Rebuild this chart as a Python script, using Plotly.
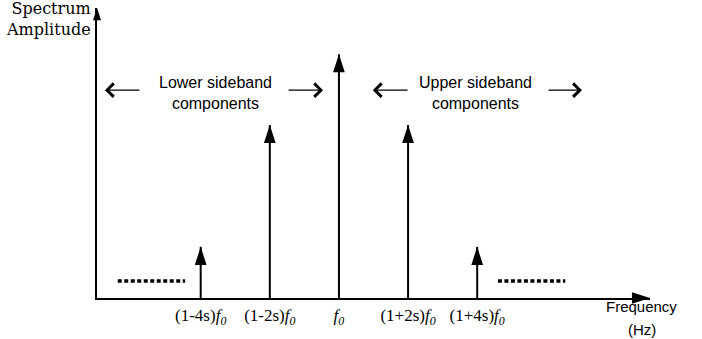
import plotly.graph_objects as go

# ---- data -------------------------------------------------------------
# component positions in units of s (relative to f0) and spectrum amplitudes
component_pos = [-4, -2, 0, 2, 4]
component_amp = [0.21, 0.71, 1.0, 0.71, 0.21]
tick_labels = [
    "(1-4s)<i>f<sub>0</sub></i>",
    "(1-2s)<i>f<sub>0</sub></i>",
    "<i>f<sub>0</sub></i>",
    "(1+2s)<i>f<sub>0</sub></i>",
    "(1+4s)<i>f<sub>0</sub></i>",
]
# "more components" dotted continuation marks (x start, x end) and level
continuation_x = [(-6.4, -4.45), (4.6, 6.55)]
continuation_level = 0.07

# sideband annotation texts
sideband_labels = ["Lower sideband<br>components", "Upper sideband<br>components"]
sideband_centers = [-3.56, 3.96]
sideband_level = 0.853
# arrows (tail x, tip x)
sideband_arrows = [(-5.73, -6.77), (-1.50, -0.46), (2.03, 0.98), (6.02, 7.03)]

X_RANGE = [-7, 9]
Y_RANGE = [0, 1.19]

fig = go.Figure()

# stems
sx, sy = [], []
for p, a in zip(component_pos, component_amp):
    sx += [p, p, None]
    sy += [0, a, None]
fig.add_trace(go.Scatter(x=sx, y=sy, mode="lines",
                         line=dict(color="black", width=2),
                         hoverinfo="skip", showlegend=False))
# arrow heads
fig.add_trace(go.Scatter(x=component_pos, y=component_amp, mode="markers",
                         marker=dict(symbol="arrow", size=19, color="black",
                                     angle=0, line=dict(width=0)),
                         cliponaxis=False, hoverinfo="skip", showlegend=False))

# continuation dots
for x0, x1 in continuation_x:
    fig.add_trace(go.Scatter(x=[x0, x1], y=[continuation_level, continuation_level],
                             mode="lines",
                             line=dict(color="black", width=3.5, dash="4px,2.5px"),
                             hoverinfo="skip", showlegend=False))

# axis arrowheads
fig.add_trace(go.Scatter(x=[X_RANGE[1]], y=[Y_RANGE[0]], mode="markers",
                         marker=dict(symbol="arrow", size=19, color="black", angle=90),
                         cliponaxis=False, hoverinfo="skip", showlegend=False))
fig.add_trace(go.Scatter(x=[X_RANGE[0]], y=[Y_RANGE[1]], mode="markers",
                         marker=dict(symbol="arrow", size=13, color="black", angle=0),
                         cliponaxis=False, hoverinfo="skip", showlegend=False))

annotations = []
for txt, cx in zip(sideband_labels, sideband_centers):
    annotations.append(dict(x=cx, y=sideband_level - 0.01, xref="x", yref="y", text=txt,
                            showarrow=False, xanchor="center", yanchor="middle",
                            font=dict(family="Liberation Sans", size=16, color="black")))
for tail, tip in sideband_arrows:
    annotations.append(dict(x=tip, y=sideband_level, ax=tail, ay=sideband_level,
                            xref="x", yref="y", axref="x", ayref="y", text="",
                            showarrow=True, arrowhead=4, arrowsize=2.0,
                            arrowwidth=1.3, arrowcolor="black"))

annotations.append(dict(x=-0.008, y=0.962, xref="paper", yref="paper",
                        text="Spectrum<br>Amplitude", showarrow=False,
                        xanchor="right", yanchor="middle", align="right",
                        font=dict(family="DejaVu Serif", size=16, color="black")))
annotations.append(dict(x=0.9855, y=-0.031, xref="paper", yref="paper",
                        text="Frequency", showarrow=False,
                        xanchor="center", yanchor="middle",
                        font=dict(family="Liberation Sans", size=15, color="black")))
annotations.append(dict(x=0.9855, y=-0.108, xref="paper", yref="paper",
                        text="(Hz)", showarrow=False,
                        xanchor="center", yanchor="middle",
                        font=dict(family="Liberation Sans", size=15, color="black")))

fig.update_layout(
    width=702, height=339,
    margin=dict(l=97, r=52, t=8, b=41),
    paper_bgcolor="white", plot_bgcolor="white",
    annotations=annotations,
    xaxis=dict(range=X_RANGE, showgrid=False, zeroline=False,
               showline=True, linecolor="black", linewidth=2,
               tickvals=component_pos, ticktext=tick_labels,
               ticks="outside", ticklen=1, tickcolor="rgba(0,0,0,0)",
               tickfont=dict(family="Liberation Serif", size=17, color="black"),
               fixedrange=True),
    yaxis=dict(range=Y_RANGE, showgrid=False, zeroline=False,
               showline=True, linecolor="black", linewidth=2,
               showticklabels=False, ticks="", fixedrange=True),
)

fig.write_html("out.html", config={"displayModeBar": False},
               post_script="document.body.style.margin='0';document.body.style.padding='0';document.body.style.overflow='hidden';")
